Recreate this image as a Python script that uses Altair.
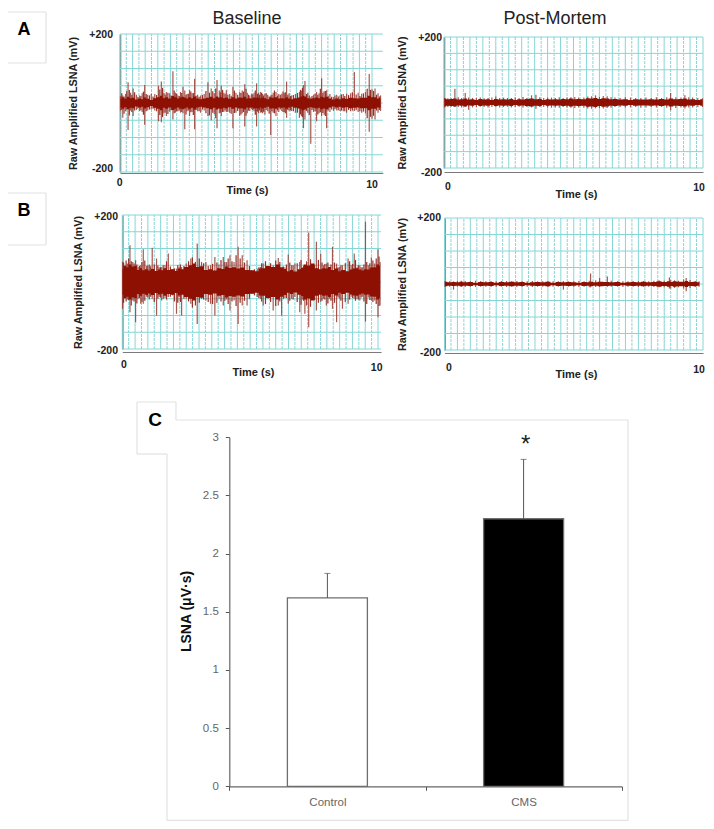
import altair as alt
import pandas as pd

# ---- bar panel values ----
groups = ["Control", "CMS"]
lsna_mean = [1.62, 2.30]
lsna_top = [1.83, 2.81]
star_value = [2.93]
lsna_ticks = [0, 0.5, 1, 1.5, 2, 2.5, 3]

# ---- grid values ----
mv_lines = [-200, -150, -100, -50, 0, 50, 100, 150, 200]
sec_solid = [0, .5, 1, 1.5, 2, 2.5, 3, 3.5, 4, 4.5, 5, 5.5, 6, 6.5, 7, 7.5, 8, 8.5, 9, 9.5, 10]
sec_dash = [.25, .75, 1.25, 1.75, 2.25, 2.75, 3.25, 3.75, 4.25, 4.75, 5.25, 5.75, 6.25, 6.75, 7.25, 7.75, 8.25, 8.75, 9.25, 9.75]

# ---- trace envelopes (s, mV) ----
a1_t = [.02,.11,.22,.32,.42,.52,.65,.78,.88,.98,1.10,1.24,1.38,1.53,1.64,1.74,1.84,1.97,2.10,2.20,2.30,2.40,2.50,2.57,2.66,2.76,2.86,2.96,3.08,3.20,3.34,3.49,3.62,3.74,3.85,3.94,4.02,4.12,4.22,4.35,4.48,4.60,4.75,4.85,4.95,5.05,5.15,5.22,5.32,5.42,5.50,5.58,5.66,5.75,5.86,5.98,6.08,6.19,6.30,6.42,6.52,6.61,6.71,6.81,6.96,7.12,7.20,7.28,7.34,7.45,7.57,7.68,7.80,7.90,8.00,8.10,8.20,8.33,8.47,8.60,8.73,8.86,8.99,9.15,9.30,9.45,9.59,9.74,9.89,10.00,10.12,10.24,10.34]
a1_hi = [20,22,26,60,30,42,24,22,28,52,24,27,26,50,62,30,32,28,92,30,22,32,47,36,26,37,28,70,24,22,26,60,42,28,67,36,50,30,37,26,47,30,32,36,54,30,22,27,30,57,30,32,26,27,24,22,30,32,26,27,28,62,28,22,26,32,36,52,64,30,17,24,32,28,72,34,37,26,17,24,22,26,27,28,90,30,27,32,84,40,42,28,22]
a1_lo = [-22,-43,-24,-78,-22,-38,-20,-23,-26,-63,-22,-18,-22,-53,-56,-30,-38,-25,-48,-28,-24,-28,-30,-76,-24,-38,-26,-76,-24,-28,-22,-38,-50,-32,-73,-30,-38,-26,-26,-28,-73,-28,-38,-30,-68,-30,-23,-18,-24,-68,-30,-28,-30,-33,-24,-93,-28,-38,-26,-23,-26,-43,-24,-23,-28,-43,-38,-73,-48,-28,-118,-26,-53,-30,-38,-34,-73,-26,-23,-22,-23,-24,-28,-24,-23,-26,-28,-30,-83,-46,-48,-28,-23]
a1_core = [13,17,12,18,14,15,10,13,11,16,12,9,14,17,21,14,17,13,20,17,13,16,18,16,13,17,14,19,13,11,13,15,18,14,19,16,17,14,16,12,17,13,16,15,18,13,14,13,16,15,16,13,16,14,11,16,15,17,13,14,13,17,13,11,14,16,19,21,19,14,12,14,16,14,18,16,18,13,10,13,11,14,12,15,14,13,15,15,21,17,17,13,14]
a1_fringe_t = [.07,.16,.27,.37,.47,.58,.71,.83,.93,1.04,1.17,1.31,1.45,1.58,1.69,1.79,1.90,2.03,2.15,2.25,2.35,2.45,2.62,2.71,2.81,2.91,3.02,3.14,3.27,3.41,3.55,3.68,3.80,3.98,4.07,4.17,4.28,4.41,4.54,4.67,4.80,4.90,5.00,5.10,5.27,5.37,5.46,5.54,5.62,5.70,5.80,5.92,6.03,6.13,6.25,6.36,6.47,6.56,6.66,6.76,6.88,7.04,7.16,7.24,7.40,7.51,7.62,7.74,7.85,7.95,8.05,8.15,8.26,8.40,8.53,8.66,8.79,8.92,9.07,9.22,9.37,9.52,9.66,9.81,9.94,10.06,10.18,10.29]
a1_fringe_hi = [28,19,34,38,24,31,18,20,33,26,22,19,23,39,44,25,30,22,36,27,20,29,24,27,33,29,21,18,23,35,30,34,42,31,38,27,24,21,36,24,29,33,41,24,25,36,27,24,30,22,28,19,24,36,21,24,33,31,24,20,23,29,38,44,26,22,20,27,24,41,30,35,21,18,22,19,25,20,23,31,25,20,28,41,38,35,24,19]
a1_fringe_lo = [-20,-31,-19,-36,-26,-22,-17,-21,-34,-24,-19,-17,-24,-35,-41,-28,-32,-21,-30,-24,-22,-26,-33,-22,-27,-35,-20,-24,-19,-30,-36,-28,-44,-28,-26,-22,-25,-31,-29,-23,-33,-26,-37,-22,-20,-34,-25,-22,-27,-25,-20,-31,-24,-30,-21,-19,-26,-30,-20,-21,-24,-28,-33,-41,-23,-35,-20,-24,-33,-27,-29,-38,-22,-19,-18,-21,-22,-24,-20,-22,-21,-24,-25,-44,-40,-37,-22,-20]

a2_t = [.02,.15,.28,.42,.55,.68,.82,.95,1.10,1.25,1.40,1.55,1.70,1.85,2.00,2.15,2.30,2.45,2.60,2.75,2.90,3.05,3.20,3.38,3.55,3.70,3.85,4.00,4.15,4.30,4.45,4.60,4.75,4.90,5.05,5.20,5.40,5.55,5.70,5.85,6.00,6.15,6.30,6.45,6.60,6.80,7.00,7.20,7.40,7.60,7.80,8.00,8.20,8.40,8.60,8.75,8.95,9.15,9.30,9.45,9.60,9.80,9.98]
a2_hi = [14,13,13,42,16,14,29,15,14,14,15,13,14,15,18,14,15,14,14,15,14,17,14,22,24,16,14,15,15,14,16,14,15,16,17,15,15,18,19,22,17,20,19,16,15,14,16,15,14,14,15,14,16,14,16,29,16,15,22,16,15,14,13]
a2_lo = [-15,-14,-13,-14,-14,-15,-14,-22,-15,-14,-13,-14,-15,-14,-13,-15,-14,-13,-15,-14,-13,-15,-14,-15,-19,-14,-14,-15,-16,-15,-16,-14,-15,-16,-17,-15,-16,-18,-19,-18,-17,-18,-17,-16,-14,-14,-15,-15,-14,-16,-15,-14,-15,-14,-16,-24,-17,-15,-18,-15,-15,-14,-14]
a2_core = [12,10,11,12,9,10,12,9,10,8,11,9,10,8,11,9,10,9,11,8,10,9,11,12,10,11,8,10,9,10,9,11,10,12,10,11,10,13,12,14,11,13,12,10,11,9,10,8,10,9,9,10,9,11,9,12,10,11,12,9,10,8,10]

b1_t = [.01,.10,.20,.30,.41,.52,.62,.72,.82,.95,1.06,1.17,1.34,1.44,1.54,1.67,1.80,1.96,2.12,2.22,2.32,2.50,2.68,2.80,2.93,3.10,3.27,3.45,3.62,3.78,3.95,4.08,4.21,4.37,4.53,4.69,4.88,5.06,5.28,5.40,5.51,5.70,5.90,6.10,6.23,6.36,6.49,6.62,6.75,6.94,7.04,7.14,7.29,7.44,7.59,7.76,7.87,7.98,8.10,8.22,8.38,8.50,8.61,8.83,8.95,9.07,9.18,9.29,9.40,9.51,9.62,9.74,9.87,10.00,10.08]
b1_hi = [60,50,55,110,60,65,45,50,98,48,52,102,70,44,45,50,85,38,40,44,45,55,70,50,115,60,60,50,75,52,75,60,80,60,105,80,65,35,40,45,55,42,50,72,40,44,82,50,55,60,44,40,148,48,120,85,50,55,44,105,55,45,50,70,50,85,44,50,44,180,50,73,55,98,60]
b1_lo = [-80,-50,-52,-90,-55,-120,-50,-65,-65,-44,-52,-50,-100,-45,-55,-48,-45,-40,-95,-45,-100,-50,-65,-50,-125,-50,-55,-65,-100,-50,-70,-52,-85,-55,-125,-70,-70,-35,-45,-50,-70,-50,-85,-70,-100,-48,-65,-50,-45,-90,-52,-95,-135,-48,-85,-60,-50,-70,-50,-80,-120,-50,-80,-65,-44,-50,-50,-55,-44,-118,-46,-55,-55,-105,-70]
b1_core = [38,48,44,52,46,48,36,41,35,38,34,39,33,37,35,41,36,38,33,40,38,45,50,55,45,47,36,38,34,41,39,46,42,44,40,43,36,35,32,40,41,48,45,52,44,39,32,36,31,38,42,52,49,55,41,38,41,40,45,36,40,32,36,32,37,40,41,37,34,38,37,43,44,52,48]
b1_fringe_t = [.05,.15,.25,.35,.46,.57,.67,.77,.88,1.00,1.11,1.25,1.39,1.49,1.60,1.73,1.88,2.04,2.17,2.27,2.41,2.59,2.74,2.86,3.01,3.18,3.36,3.53,3.70,3.86,4.01,4.14,4.29,4.45,4.61,4.78,4.97,5.17,5.34,5.45,5.60,5.80,6.00,6.16,6.30,6.42,6.55,6.68,6.84,6.99,7.09,7.21,7.36,7.52,7.67,7.81,7.92,8.04,8.16,8.30,8.44,8.55,8.72,8.89,9.01,9.12,9.23,9.34,9.45,9.56,9.68,9.80,9.93,10.04]
b1_fringe_hi = [58,64,70,62,55,52,48,60,64,50,47,52,49,44,50,62,46,41,50,52,48,62,74,60,70,56,48,54,58,66,60,70,62,80,70,58,48,38,44,56,62,56,64,60,46,52,58,50,56,66,48,62,68,52,66,58,54,58,52,58,44,50,56,62,54,66,50,44,52,60,56,64,70,76]
b1_fringe_lo = [-62,-58,-54,-70,-58,-64,-48,-60,-56,-46,-44,-60,-50,-46,-50,-52,-44,-58,-62,-60,-50,-58,-76,-70,-62,-52,-60,-66,-62,-58,-56,-66,-58,-72,-62,-56,-50,-40,-48,-58,-66,-60,-72,-58,-50,-48,-56,-52,-60,-68,-56,-70,-74,-54,-62,-56,-52,-64,-56,-62,-46,-56,-60,-52,-48,-56,-52,-46,-58,-66,-54,-60,-66,-72]

b2_t = [.02,.20,.35,.50,.65,.80,1.00,1.20,1.40,1.60,1.80,2.00,2.20,2.40,2.60,2.80,3.00,3.20,3.40,3.60,3.80,4.00,4.20,4.40,4.60,4.80,5.00,5.20,5.40,5.60,5.65,5.85,6.00,6.30,6.45,6.70,6.90,7.10,7.30,7.50,7.70,7.90,8.10,8.30,8.50,8.70,8.75,8.90,9.05,9.25,9.35,9.50,9.70,9.85]
b2_hi = [9,8,8,9,10,9,8,10,9,8,9,8,9,9,8,9,8,8,9,8,8,9,8,8,9,8,8,9,8,10,32,11,18,23,10,9,8,8,9,8,9,8,10,11,10,20,12,11,10,14,18,12,9,8]
b2_lo = [-8,-8,-17,-8,-9,-9,-8,-9,-8,-8,-9,-8,-8,-9,-8,-9,-8,-8,-9,-8,-8,-9,-8,-8,-17,-8,-8,-9,-8,-10,-10,-9,-9,-8,-8,-8,-9,-8,-8,-9,-8,-8,-9,-10,-10,-14,-14,-12,-10,-14,-22,-12,-9,-8]
b2_core = [7,5,6,5,7,5,6,4,6,5,6,4,6,5,7,5,6,4,5,6,5,7,4,6,5,6,5,4,6,5,7,5,7,6,5,6,4,5,6,5,7,5,6,8,6,8,6,8,7,7,9,6,7,5]

FONT = "Liberation Sans"
CYAN = "#86d6d6"
DARK = "#8e1002"
SPIKE = "#9a3a30"
FRINGE = "#8e1a10"
FRAME = "#e2e2e2"
M = 8  # page margin: picture px minus M gives chart px
W = 698
H = 813


def caption(label, x, y, size, weight="bold", color="#000", align="center"):
    return alt.Chart(pd.DataFrame({"label": [label]})).mark_text(
        font=FONT, fontSize=size, fontWeight=weight, color=color, align=align, baseline="middle"
    ).encode(x=alt.value(x - M), y=alt.value(y - M), text="label:N")


def trace_panel(t, hi, lo, core, left, right, t_end, x10, top, bot, line, title_x, title_y, ytitle_x,
                fringe=None):
    """All layers of one recording panel; positions are scale ranges in picture px."""
    xs = alt.Scale(domain=[0, t_end], range=[left - M, left - M + (x10 - left) * t_end / 10], nice=False, zero=False)
    ys = alt.Scale(domain=[-200, 200], range=[bot - M, top - M], nice=False, zero=False)
    X = lambda f: alt.X(f, type="quantitative", scale=xs, axis=None)
    Y = lambda f: alt.Y(f, type="quantitative", scale=ys, axis=None)

    hdf = pd.DataFrame({"mv": mv_lines, "x0": 0.0, "x1": t_end})
    solid = pd.DataFrame({"t": sec_solid, "lo": -200, "hi": 200})
    dash = pd.DataFrame({"t": sec_dash, "lo": -200, "hi": 200})
    tr = pd.DataFrame({"t": t, "hi": hi, "lo": lo, "c": core})
    tr["cn"] = -tr["c"]

    out = [
        alt.Chart(dash).mark_rule(color=CYAN, strokeWidth=1, strokeDash=[3, 1]).encode(x=X("t"), y=Y("lo"), y2="hi"),
        alt.Chart(solid).mark_rule(color=CYAN, strokeWidth=1).encode(x=X("t"), y=Y("lo"), y2="hi"),
        alt.Chart(hdf).mark_rule(color=CYAN, strokeWidth=1).encode(x=X("x0"), x2="x1", y=Y("mv")),
    ]
    if fringe is not None:
        fr = pd.DataFrame({"t": fringe[0], "hi": fringe[1], "lo": fringe[2]})
        out.append(alt.Chart(fr).mark_rule(color=FRINGE, strokeWidth=1.2, opacity=0.9).encode(x=X("t"), y=Y("lo"), y2="hi"))
    out += [
        alt.Chart(tr).mark_rule(color=SPIKE, strokeWidth=1.2, opacity=0.85).encode(x=X("t"), y=Y("lo"), y2="hi"),
        alt.Chart(tr).mark_area(color=DARK, interpolate="step").encode(x=X("t"), y=Y("cn"), y2="c"),
        # axis lines and titles carried by an invisible layer; tick labels are captions below
        alt.Chart(pd.DataFrame({"t": [0, 10], "mv": [-200, 200]})).mark_point(opacity=0).encode(
            x=alt.X("t:Q", scale=xs, title="Time (s)", axis=alt.Axis(
                orient="bottom", offset=line - M - H, values=[0, 10], ticks=False, labels=False,
                domainColor="#7a7a7a", domainWidth=1.2, grid=False,
                titleFont=FONT, titleFontSize=11, titleFontWeight="bold", titleColor="#222",
                titleX=title_x - M, titleY=title_y - line, titleBaseline="middle")),
            y=alt.Y("mv:Q", scale=ys, title="Raw Amplified LSNA (mV)", axis=alt.Axis(
                orient="left", offset=-(left - M), values=[-200, 200], ticks=False, labels=False,
                domainColor="#7a7a7a", domainWidth=1.6, grid=False,
                titleFont=FONT, titleFontSize=10.8, titleFontWeight="bold", titleColor="#222",
                titleX=ytitle_x - left, titleY=(top + bot) / 2 - M, titleBaseline="middle")),
        ),
    ]
    return out


def tick_labels(x0, y0, x1, y1, right, yt, yb):
    return [
        caption("0", x0, y0, 10.5, color="#222"),
        caption("10", x1, y1, 10.5, color="#222"),
        caption("+200", right, yt, 10.5, color="#222", align="right"),
        caption("-200", right, yb, 10.5, color="#222", align="right"),
    ]


def seg(x1, y1, x2, y2):
    return alt.Chart(pd.DataFrame({"s": [0]})).mark_rule(color=FRAME, strokeWidth=1.2).encode(
        x=alt.value(x1 - M), x2=alt.value(x2 - M), y=alt.value(y1 - M), y2=alt.value(y2 - M))


frames = [
    seg(8, 12, 46, 12), seg(46, 12, 46, 63), seg(8, 63, 46, 63),
    seg(8, 193, 46, 193), seg(46, 193, 46, 245), seg(8, 245, 46, 245),
    seg(137, 402, 176, 402), seg(176, 402, 176, 420), seg(176, 420, 628, 420),
    seg(628, 420, 628, 820.4), seg(167, 820.4, 628, 820.4), seg(167, 454, 167, 820.4),
    seg(137, 454, 167, 454), seg(137, 402, 137, 454),
]

captions = [
    caption("Baseline", 247, 19.2, 18, "normal", "#222"),
    caption("Post-Mortem", 555, 19.2, 18, "normal", "#222"),
    caption("A", 24, 30, 18),
    caption("B", 24, 211, 18),
    caption("C", 155, 420, 19),
]

panels = (
    trace_panel(a1_t, a1_hi, a1_lo, a1_core, 120, 383, 10.43, 372, 34, 172, 173, 247, 190, 73,
                fringe=(a1_fringe_t, a1_fringe_hi, a1_fringe_lo))
    + tick_labels(119.7, 183, 372, 185, 113, 34.5, 169)
    + trace_panel(a2_t, a2_hi, a2_lo, a2_core, 444, 703, 10.0, 703, 37, 168, 172, 576, 194, 402)
    + tick_labels(448, 186.7, 699, 188, 442, 37.7, 172.7)
    + trace_panel(b1_t, b1_hi, b1_lo, b1_core, 122.3, 381, 10.12, 378, 215, 349, 352, 253, 372, 78,
                  fringe=(b1_fringe_t, b1_fringe_hi, b1_fringe_lo))
    + tick_labels(124, 365, 376.7, 368, 118, 216.7, 351)
    + trace_panel(b2_t, b2_hi, b2_lo, b2_core, 444.5, 703, 10.0, 703, 218, 350, 353, 576, 374, 402)
    + tick_labels(449, 368, 699, 370, 441, 218, 353)
)

# ---- bar panel C ----
bar_x = alt.Scale(domain=groups, range=[229.3 - M, 621.7 - M], paddingInner=0, paddingOuter=0)
bar_y = alt.Scale(domain=[0, 3], range=[786.3 - M, 437.3 - M], nice=False, zero=False)
bars_df = pd.DataFrame({"group": groups, "mean": lsna_mean, "top": lsna_top})

bars = alt.Chart(bars_df).mark_bar(size=80, stroke="#6e6e6e", strokeWidth=1.3).encode(
    x=alt.X("group:N", scale=bar_x, sort=groups, title=None, axis=alt.Axis(
        orient="bottom", offset=786.3 - M - H, tickBand="extent", labelAngle=0, tickSize=4,
        tickColor="#555", domainColor="#666", domainWidth=1.2, labelFont=FONT, labelFontSize=11.5,
        labelColor="#666", labelPadding=6)),
    y=alt.Y("mean:Q", scale=bar_y, title="LSNA (μV·s)", axis=alt.Axis(
        orient="left", offset=-(229.3 - M), values=lsna_ticks, format="~g", tickSize=4, tickColor="#555",
        domainColor="#666", domainWidth=1.2, labelFont=FONT, labelFontSize=11.5, labelColor="#666",
        labelPadding=7, grid=False, titleFont=FONT, titleFontSize=14, titleFontWeight="bold",
        titleColor="#111", titleX=186.7 - 229.3, titleY=611 - M, titleBaseline="middle")),
    color=alt.Color("group:N", scale=alt.Scale(domain=groups, range=["#ffffff", "#000000"]), legend=None),
)
x_plain = alt.X("group:N", scale=bar_x, sort=groups, axis=None)
y_plain = alt.Y("mean:Q", scale=bar_y, axis=None)
err = alt.Chart(bars_df).mark_rule(color="#555", strokeWidth=1).encode(x=x_plain, y=y_plain, y2="top:Q")
caps = alt.Chart(bars_df).mark_tick(color="#555", size=6, thickness=1, orient="horizontal").encode(
    x=x_plain, y=alt.Y("top:Q", scale=bar_y, axis=None))
star = alt.Chart(pd.DataFrame({"group": ["CMS"], "v": star_value, "s": ["*"]})).mark_text(
    font=FONT, fontSize=24, color="#222", baseline="middle", dx=2
).encode(x=x_plain, y=alt.Y("v:Q", scale=bar_y, axis=None), text="s:N")

chart = alt.layer(*(frames + captions + panels + [bars, err, caps, star])).resolve_scale(
    x="independent", y="independent", color="independent"
).properties(
    width=W, height=H, padding=0, autosize=alt.AutoSizeParams(type="none")
).configure_view(stroke=None)

chart.save("out.html", embed_options={"renderer": "svg", "actions": False})
